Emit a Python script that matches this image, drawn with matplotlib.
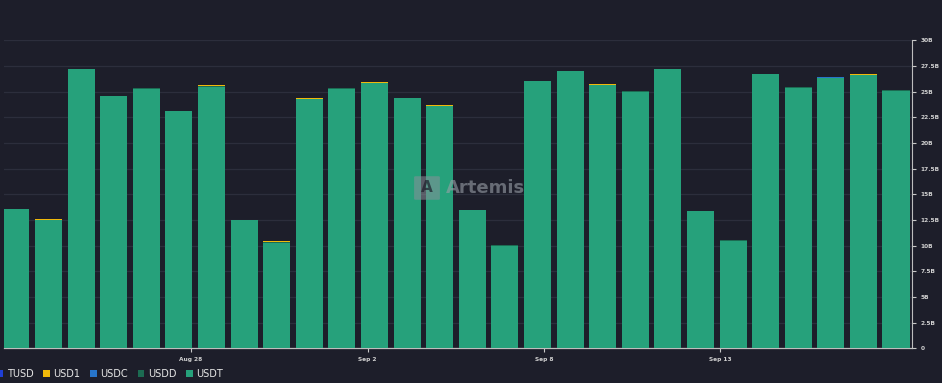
import numpy as np
import matplotlib
matplotlib.use("Agg")
import matplotlib.pyplot as plt
from matplotlib.patches import FancyBboxPatch, Patch

# daily stablecoin transfer volume (billions)
usdt = [13.6, 12.5, 27.2, 24.6, 25.3, 23.1, 25.5, 12.5, 10.3, 24.3,
        25.3, 25.8, 24.4, 23.6, 13.5, 10.0, 26.0, 27.0, 25.6, 25.0,
        27.2, 13.4, 10.5, 26.7, 25.4, 26.3, 26.6, 25.1]
usdd = [0.02] * 28
usdc = [0.0, 0.0, 0.0, 0.0, 0.0, 0.0, 0.0, 0.0, 0.0, 0.0,
        0.0, 0.0, 0.0, 0.0, 0.0, 0.0, 0.0, 0.0, 0.0, 0.0,
        0.0, 0.0, 0.0, 0.0, 0.0, 0.12, 0.0, 0.0]
usd1 = [0.0, 0.1, 0.0, 0.0, 0.0, 0.0, 0.1, 0.0, 0.1, 0.1,
        0.0, 0.12, 0.0, 0.12, 0.0, 0.0, 0.0, 0.0, 0.08, 0.0,
        0.0, 0.0, 0.0, 0.0, 0.0, 0.0, 0.12, 0.0]
tusd = [0.0] * 28

tick_pos = [5.37, 10.79, 16.2, 21.6]
tick_labels = ["Aug 28", "Sep 2", "Sep 8", "Sep 13"]
y_ticks = [0, 2.5, 5, 7.5, 10, 12.5, 15, 17.5, 20, 22.5, 25, 27.5, 30]
y_labels = ["0", "2.5B", "5B", "7.5B", "10B", "12.5B", "15B", "17.5B",
            "20B", "22.5B", "25B", "27.5B", "30B"]

bg = "#1d1e2a"
colors = {"TUSD": "#1f3fd8", "USD1": "#f0b90b", "USDC": "#2775ca",
          "USDD": "#1c6b52", "USDT": "#26a17b"}

fig = plt.figure(figsize=(9.42, 3.83), dpi=100, facecolor=bg)
ax = fig.add_axes([4 / 942, (383 - 348.4) / 383, 908 / 942, 308.1 / 383])
ax.set_facecolor(bg)

x = np.arange(len(usdt))
w = 0.83
bottom = np.zeros(len(usdt))
for name, vals in [("USDT", usdt), ("USDD", usdd), ("USDC", usdc),
                   ("USD1", usd1), ("TUSD", tusd)]:
    vals = np.array(vals)
    ax.bar(x, vals, width=w, bottom=bottom, color=colors[name], zorder=3,
           linewidth=0)
    bottom += vals

ax.set_xlim(-0.365, 27.49)
ax.set_ylim(0, 30)

# grid
for yt in y_ticks[1:]:
    ax.axhline(yt, color="#2c2e3c", linewidth=0.9, zorder=1)

# right axis
ax.yaxis.tick_right()
ax.set_yticks(y_ticks)
ax.set_yticklabels(y_labels)
ax.tick_params(axis="y", colors="#c8c8c8", labelcolor="#d0d0d0",
               labelsize=4.2, length=3, width=0.8, pad=3)
ax.set_xticks(tick_pos)
ax.set_xticklabels(tick_labels)
ax.tick_params(axis="x", colors="#c8c8c8", labelcolor="#d0d0d0",
               labelsize=4.2, length=3, width=0.8, pad=3)
for lab in ax.get_xticklabels() + ax.get_yticklabels():
    lab.set_fontweight("bold")

for side in ["top", "left"]:
    ax.spines[side].set_visible(False)
ax.spines["right"].set_color("#bdbdbd")
ax.spines["right"].set_linewidth(0.8)
ax.spines["bottom"].set_color("#bdbdbd")
ax.spines["bottom"].set_linewidth(0.9)

# watermark
logo = FancyBboxPatch((416 / 942, (383 - 199) / 383), 22 / 942, 22 / 383,
                      boxstyle="round,pad=0.002", transform=fig.transFigure,
                      facecolor="#8a8f99", edgecolor="none", alpha=0.55,
                      zorder=10)
fig.patches.append(logo)
fig.text(427 / 942, (383 - 188) / 383, "A", color=bg, alpha=0.7,
         fontsize=11, fontweight="bold", ha="center", va="center", zorder=11)
fig.text(446 / 942, (383 - 188) / 383, "Artemis", color="#9aa0a8",
         alpha=0.6, fontsize=13, fontweight="bold", ha="left", va="center",
         zorder=11)

# legend
handles = [Patch(facecolor=colors[n], edgecolor="none") for n in
           ["TUSD", "USD1", "USDC", "USDD", "USDT"]]
leg = fig.legend(handles, ["TUSD", "USD1", "USDC", "USDD", "USDT"],
                 loc="lower left", bbox_to_anchor=(-0.013, -0.012), ncol=5,
                 frameon=False, fontsize=7, handlelength=0.7,
                 handleheight=0.7, handletextpad=0.35, columnspacing=1.0,
                 labelcolor="#e6e6e6")

fig.savefig("out.png", dpi=100, facecolor=bg)
